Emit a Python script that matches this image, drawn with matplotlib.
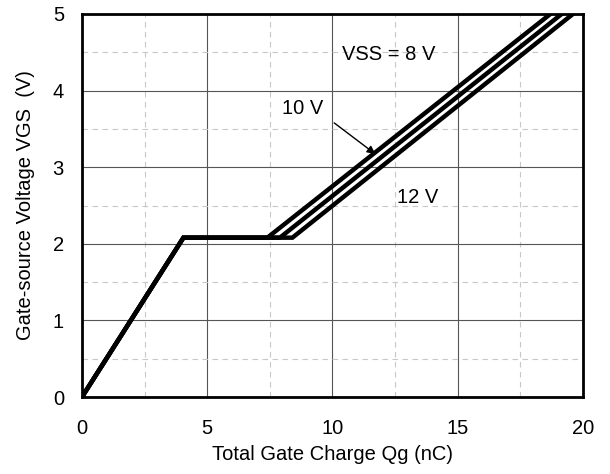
import matplotlib
matplotlib.use("Agg")
import matplotlib.pyplot as plt
import numpy as np

plt.rcParams['font.family'] = ['Liberation Sans', 'DejaVu Sans']

# gate charge curves (Qg in nC, VGS in V) for VSS = 8, 10, 12 V
qg_8 = [0, 4.05, 7.4, 18.7]
qg_10 = [0, 4.05, 7.9, 19.15]
qg_12 = [0, 4.05, 8.4, 19.6]
vgs = [0, 2.08, 2.08, 5.0]

fs = 14.5

fig = plt.figure(figsize=(6.1, 4.74), dpi=100)
ax = fig.add_axes([0.1344, 0.1624, 0.8213, 0.8081])

for q in (qg_12, qg_10, qg_8):
    ax.plot(q, vgs, color='black', lw=3.2, solid_joinstyle='miter', zorder=3)

ax.set_xlim(0, 20)
ax.set_ylim(0, 5)
ax.set_xticks([0, 5, 10, 15, 20])
ax.set_yticks([0, 1, 2, 3, 4, 5])
ax.set_xticks(np.arange(2.5, 20, 5), minor=True)
ax.set_yticks(np.arange(0.5, 5, 1), minor=True)
ax.grid(which='major', color='#555555', lw=0.8)
ax.grid(which='minor', color='#c8c8c8', lw=0.8, ls=(0, (5, 4)))
ax.tick_params(which='both', length=0, labelsize=fs)
ax.tick_params(axis='x', pad=16)
ax.tick_params(axis='y', pad=13)
for s in ax.spines.values():
    s.set_linewidth(2)

ax.set_xlabel('Total Gate Charge Qg (nC)', fontsize=fs, labelpad=5)
ax.set_ylabel('Gate-source Voltage VGS  (V)', fontsize=fs, labelpad=13)

ax.text(12.24, 4.47, 'VSS = 8 V', fontsize=fs, ha='center', va='center')
ax.text(8.82, 3.76, '10 V', fontsize=fs, ha='center', va='center')
ax.text(13.4, 2.6, '12 V', fontsize=fs, ha='center', va='center')
ax.annotate('', xy=(11.8, 3.15), xytext=(9.98, 3.6),
            arrowprops=dict(arrowstyle='-|>', color='black', lw=1, mutation_scale=12))

fig.savefig('out.png', dpi=100)
